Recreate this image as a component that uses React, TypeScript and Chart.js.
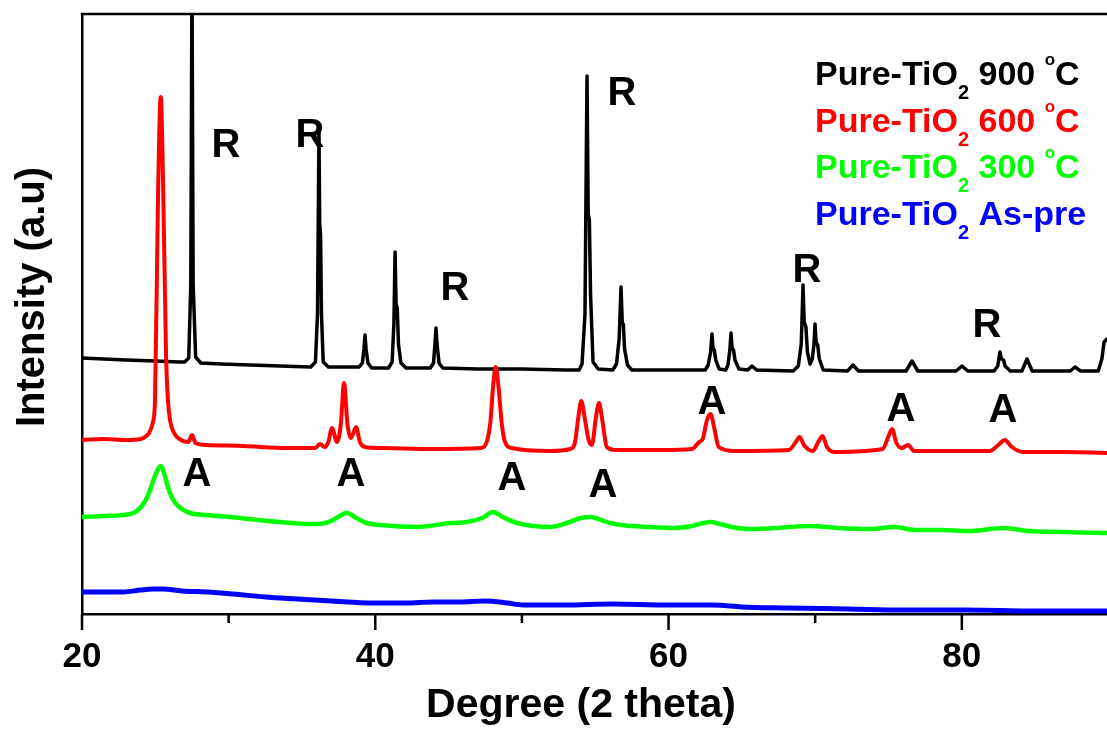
import React, { useEffect, useRef } from "react";
import { Chart, registerables } from "chart.js";

Chart.register(...registerables);

const FONT = "'Liberation Sans', Arial, Helvetica, sans-serif";

// ---- axis ----
const xMin = 20;
const xMax = 89.9;
const yMin = 0;
const yMax = 600;
const xTicksAll = [20, 30, 40, 50, 60, 70, 80];
const xTicksMajor = [20, 40, 60, 80];
const xTicksMinor = [30, 50, 70];
const xTitle = "Degree (2 theta)";
const yTitle = "Intensity (a.u)";

// ---- series: [2 theta (deg), intensity (a.u.)] ----
const tio2_900: [number, number][] = [
  [20.0, 256], [21.5, 255], [23.0, 254], [25.0, 253], [26.6, 252],
  [27.0, 252], [27.28, 256], [27.42, 330], [27.5, 640], [27.58, 330], [27.75, 257], [28.1, 251],
  [29.5, 250], [31.5, 249], [33.5, 248], [35.6, 247],
  [35.92, 252], [36.06, 300], [36.16, 484], [36.21, 390], [36.27, 379], [36.33, 300], [36.45, 252], [36.8, 247],
  [38.9, 247], [39.12, 251], [39.23, 265], [39.3, 279], [39.37, 265], [39.5, 251], [39.75, 246],
  [40.9, 246], [41.15, 252], [41.27, 290], [41.35, 362], [41.42, 310], [41.5, 305], [41.58, 270], [41.75, 251], [42.1, 246],
  [43.6, 246], [43.75, 246], [43.97, 251], [44.07, 270], [44.14, 286], [44.21, 270], [44.35, 251], [44.6, 246],
  [47.0, 245], [50.0, 245], [53.0, 244], [53.9, 244],
  [54.1, 250], [54.3, 300], [54.44, 538], [54.52, 400], [54.6, 394], [54.68, 320], [54.85, 252], [55.2, 245],
  [56.2, 244], [56.45, 250], [56.63, 275], [56.76, 327], [56.84, 292], [56.92, 289], [57.0, 265], [57.2, 249], [57.5, 244],
  [60.0, 244], [62.5, 244],
  [62.7, 249], [62.87, 262], [62.96, 280], [63.03, 266], [63.12, 264], [63.22, 254], [63.45, 245], [63.9, 244],
  [64.05, 249], [64.18, 264], [64.26, 281], [64.33, 266], [64.43, 264], [64.53, 254], [64.8, 245],
  [65.4, 244], [65.69, 248], [66.0, 244], [68.5, 243],
  [68.85, 248], [69.05, 270], [69.17, 329], [69.25, 292], [69.37, 287], [69.47, 262], [69.65, 250],
  [69.8, 255], [69.92, 270], [69.99, 290], [70.06, 272], [70.17, 269], [70.28, 255], [70.55, 244],
  [72.2, 243], [72.58, 249], [72.95, 243],
  [76.2, 243], [76.6, 253], [77.0, 243],
  [79.6, 243], [80.01, 248], [80.4, 243],
  [82.2, 243], [82.45, 248], [82.6, 262], [82.7, 255], [82.85, 254], [82.95, 248], [83.3, 243],
  [84.1, 243], [84.44, 255], [84.8, 243],
  [87.4, 243], [87.72, 247], [88.1, 243],
  [89.3, 243], [89.55, 255], [89.7, 272], [89.9, 275],
];

const tio2_600: [number, number][] = [
  [20.0, 174], [21.5, 175], [23.0, 174], [24.0, 175], [24.3, 177], [24.57, 181], [24.84, 192], [24.98, 214],
  [25.18, 414], [25.37, 517], [25.55, 414], [25.73, 260], [25.86, 214], [26.0, 194], [26.28, 181], [26.75, 174],
  [27.25, 172], [27.5, 179], [27.75, 171], [28.5, 169], [31.0, 168], [34.0, 166], [35.9, 166], [36.23, 170],
  [36.55, 167], [36.8, 172], [37.05, 186], [37.39, 172], [37.65, 190], [37.87, 231], [38.1, 190], [38.34, 176],
  [38.69, 187], [38.95, 172], [39.3, 167], [40.5, 166], [44.0, 165], [47.2, 166], [47.6, 172], [47.85, 192],
  [48.05, 230], [48.21, 247], [48.4, 228], [48.62, 191], [48.85, 172], [49.3, 166], [51.9, 163], [53.3, 165],
  [53.61, 171], [53.85, 197], [54.05, 213], [54.27, 197], [54.55, 174], [54.77, 169], [55.05, 197], [55.26, 211],
  [55.48, 194], [55.79, 167], [56.4, 164], [59.5, 164], [61.6, 165], [62.09, 172], [62.33, 175], [62.62, 194],
  [62.87, 200], [63.1, 187], [63.42, 167], [64.5, 163], [68.2, 164], [68.68, 172], [68.94, 177], [69.23, 169],
  [69.84, 163], [70.21, 172], [70.5, 178], [70.8, 167], [71.3, 162], [74.6, 165], [74.98, 177], [75.24, 185],
  [75.54, 171], [75.9, 166], [76.34, 169], [76.74, 163], [81.9, 163], [82.49, 169], [82.92, 174], [83.41, 167],
  [84.14, 162], [87.0, 162], [89.9, 161],
];

const tio2_300: [number, number][] = [
  [20.0, 97], [21.5, 98], [22.8, 99], [23.5, 101], [23.96, 106], [24.35, 114], [24.64, 124], [25.0, 139],
  [25.37, 148], [25.6, 141], [25.86, 127], [26.15, 116], [26.48, 109], [27.36, 101], [28.5, 99], [30.09, 97],
  [33.5, 92], [35.75, 90], [36.6, 91], [37.12, 94], [38.05, 101], [38.7, 96], [39.41, 91], [40.32, 89],
  [42.85, 87], [45.1, 91], [46.25, 92], [47.3, 96], [48.03, 102], [48.7, 97], [49.66, 91], [50.8, 88],
  [51.91, 87], [53.28, 92], [54.0, 96], [54.71, 97], [55.4, 94], [56.0, 91], [56.76, 89], [58.7, 87],
  [60.37, 86], [61.6, 88], [62.4, 91], [62.87, 92], [63.5, 90], [64.3, 87], [65.49, 85], [67.5, 86],
  [69.58, 88], [71.5, 86], [73.74, 85], [75.42, 87], [76.8, 84], [78.58, 84], [80.5, 83], [82.92, 86],
  [84.5, 83], [87.0, 82], [89.9, 81],
];

const tio2_aspre: [number, number][] = [
  [20.0, 22], [21.5, 22], [22.8, 22], [24.0, 24], [24.8, 25], [25.5, 25], [26.8, 23], [28.5, 22],
  [30.3, 20], [32.5, 17], [34.7, 15], [37.0, 13], [39.9, 11], [42.0, 11], [44.0, 12], [45.7, 12],
  [47.5, 13], [49.0, 11], [50.07, 9], [53.0, 9], [56.0, 10], [60.0, 9], [63.0, 9], [65.0, 7],
  [68.0, 6], [72.2, 5], [76.0, 4], [80.2, 4], [85.0, 3], [89.9, 3],
];

// ---- legend ----
const legendSuffix = ["900", "600", "300", "As-pre"];
const legendDegree = [true, true, true, false];
const seriesColors = ["#000000", "#ff0000", "#00ff00", "#0000ff"];

// ---- phase labels (R = rutile, A = anatase), centre of letter in data units ----
const phaseText = ["R", "R", "R", "R", "R", "R", "A", "A", "A", "A", "A", "A", "A"];
const phaseX = [29.82, 35.55, 45.44, 56.83, 69.44, 81.72, 27.84, 38.34, 49.32, 55.53, 62.96, 75.85, 82.81];
const phaseY = [471, 481, 328, 523, 346, 291, 142, 142, 138, 131, 214, 207, 206];

const overlay = {
  id: "overlay",
  afterDraw(chart: any) {
    const { ctx, chartArea, scales } = chart;
    const xs = scales.x;
    const ys = scales.y;
    ctx.save();
    ctx.strokeStyle = "#000";
    ctx.lineWidth = 2.5;
    // top frame line
    ctx.beginPath();
    ctx.moveTo(chartArea.left - 1.25, chartArea.top);
    ctx.lineTo(chartArea.right, chartArea.top);
    ctx.stroke();
    // ticks
    const b = chartArea.bottom;
    ctx.beginPath();
    for (const v of xTicksMajor) {
      const px = xs.getPixelForValue(v);
      ctx.moveTo(px, b);
      ctx.lineTo(px, b + 16);
    }
    for (const v of xTicksMinor) {
      const px = xs.getPixelForValue(v);
      ctx.moveTo(px, b);
      ctx.lineTo(px, b + 9);
    }
    ctx.stroke();

    // phase labels
    ctx.fillStyle = "#000";
    ctx.font = `bold 40px ${FONT}`;
    ctx.textAlign = "center";
    ctx.textBaseline = "alphabetic";
    for (let i = 0; i < phaseText.length; i++) {
      ctx.fillText(phaseText[i], xs.getPixelForValue(phaseX[i]), ys.getPixelForValue(phaseY[i]) + 14.3);
    }

    // legend
    ctx.textAlign = "left";
    const baselines = [85, 132, 178, 225];
    for (let i = 0; i < legendSuffix.length; i++) {
      let x = 815;
      const y = baselines[i];
      ctx.fillStyle = seriesColors[i];
      ctx.font = `bold 34px ${FONT}`;
      ctx.fillText("Pure-TiO", x, y);
      x += ctx.measureText("Pure-TiO").width;
      ctx.font = `bold 20px ${FONT}`;
      ctx.fillText("2", x, y + 14);
      x += ctx.measureText("2").width;
      ctx.font = `bold 34px ${FONT}`;
      const mid = " " + legendSuffix[i] + (legendDegree[i] ? " " : "");
      ctx.fillText(mid, x, y);
      x += ctx.measureText(mid).width;
      if (legendDegree[i]) {
        ctx.font = `bold 17px ${FONT}`;
        ctx.fillText("o", x, y - 20);
        x += ctx.measureText("o").width;
        ctx.font = `bold 34px ${FONT}`;
        ctx.fillText("C", x, y);
      }
    }

    // axis titles
    ctx.fillStyle = "#000";
    ctx.font = `bold 41px ${FONT}`;
    ctx.textAlign = "center";
    ctx.fillText(xTitle, 581, 717);
    ctx.translate(44, 297);
    ctx.rotate(-Math.PI / 2);
    ctx.font = `bold 40px ${FONT}`;
    ctx.fillText(yTitle, 0, 0);
    ctx.restore();
  },
};

export default function App() {
  const ref = useRef<HTMLCanvasElement>(null);
  useEffect(() => {
    const canvas = ref.current!;
    const mk = (data: [number, number][], color: string, width: number, order: number, smooth: boolean) => ({
      data,
      borderColor: color,
      backgroundColor: color,
      borderWidth: width,
      pointRadius: 0,
      fill: false,
      order,
      tension: smooth ? 0.4 : 0,
      cubicInterpolationMode: smooth ? ("monotone" as const) : ("default" as const),
      borderJoinStyle: "round" as const,
      borderCapStyle: "round" as const,
    });
    const chart = new Chart(canvas, {
      type: "line",
      data: {
        datasets: [
          mk(tio2_900, seriesColors[0], 3.5, 1, false),
          mk(tio2_600, seriesColors[1], 4, 0, true),
          mk(tio2_300, seriesColors[2], 4.5, 2, true),
          mk(tio2_aspre, seriesColors[3], 5, 3, true),
        ] as any,
      },
      options: {
        animation: false,
        responsive: false,
        devicePixelRatio: 1,
        layout: { padding: { top: 14, right: 0, bottom: 0, left: 0 } },
        plugins: { legend: { display: false }, tooltip: { enabled: false } },
        scales: {
          x: {
            type: "linear",
            min: xMin,
            max: xMax,
            grid: { display: false, drawTicks: false },
            border: { display: true, color: "#000", width: 2.5 },
            ticks: {
              autoSkip: false,
              maxRotation: 0,
              minRotation: 0,
              padding: 22,
              color: "#000",
              font: { family: FONT, size: 35, weight: "bold" },
              callback: (v: any) => (xTicksMajor.indexOf(Math.round(Number(v))) >= 0 ? String(Math.round(Number(v))) : ""),
            },
            afterBuildTicks: (s: any) => {
              s.ticks = xTicksAll.map((v) => ({ value: v }));
            },
            afterFit: (s: any) => {
              s.height = 115;
              s.paddingLeft = 0;
              s.paddingRight = 0;
            },
          },
          y: {
            type: "linear",
            min: yMin,
            max: yMax,
            grid: { display: false, drawTicks: false },
            border: { display: true, color: "#000", width: 2.5 },
            ticks: { display: false },
            afterFit: (s: any) => {
              s.width = 82;
            },
          },
        },
      },
      plugins: [overlay],
    });
    return () => chart.destroy();
  }, []);
  return (
    <div style={{ position: "fixed", left: 0, top: 0, width: 1107, height: 729, background: "#fff" }}>
      <canvas ref={ref} width={1107} height={729} style={{ display: "block", width: 1107, height: 729 }} />
    </div>
  );
}
